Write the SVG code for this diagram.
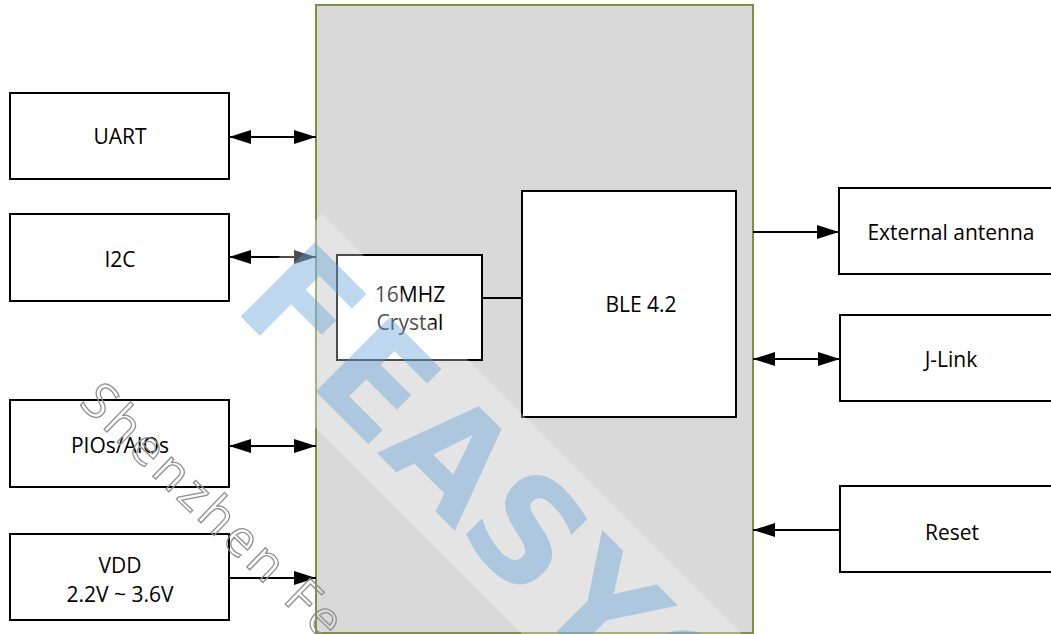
<svg xmlns="http://www.w3.org/2000/svg" width="1051" height="634" viewBox="0 0 1051 634">
  <style>
    .box { fill: #ffffff; stroke: #000000; stroke-width: 2; }
    .lbl { font-family: "Open Sans", "Liberation Sans", sans-serif; font-size: 21px; fill: #000000; text-anchor: middle; }
    .conn { stroke: #000000; stroke-width: 2; fill: none; }
  </style>
  <defs>
    <marker id="ah" markerUnits="userSpaceOnUse" markerWidth="22" markerHeight="14" viewBox="0 0 22 14" refX="22" refY="7" orient="auto-start-reverse">
      <path d="M0,0 L22,7 L0,14 Z" fill="#000000"/>
    </marker>
  </defs>
  <rect width="1051" height="634" fill="#ffffff"/>

  <g id="module">
    <rect x="316" y="5" width="437" height="628" fill="#d9d9d9" stroke="#77933c" stroke-width="2"/>
  </g>

  <g id="uart">
    <rect class="box" x="10" y="93" width="219" height="86"/>
    <text class="lbl" x="120" y="144">UART</text>
  </g>
  <g id="i2c">
    <rect class="box" x="10" y="214" width="219" height="87"/>
    <text class="lbl" x="120" y="267">I2C</text>
  </g>
  <g id="pios">
    <rect class="box" x="10" y="400" width="219" height="87"/>
    <text class="lbl" x="120" y="453">PIOs/AIOs</text>
  </g>
  <g id="vdd">
    <rect class="box" x="10" y="534" width="219" height="86"/>
    <text class="lbl" x="120" y="573">VDD</text>
    <text class="lbl" x="120" y="602">2.2V ~ 3.6V</text>
  </g>
  <g id="crystal">
    <rect class="box" x="337" y="255" width="145" height="105"/>
    <text class="lbl" x="410" y="302">16MHZ</text>
    <text class="lbl" x="410" y="330">Crystal</text>
  </g>
  <g id="ble">
    <rect class="box" x="522" y="191" width="214" height="226"/>
    <text class="lbl" x="641" y="312">BLE 4.2</text>
  </g>
  <g id="antenna">
    <rect class="box" x="839" y="188" width="230" height="86"/>
    <text class="lbl" x="951" y="240">External antenna</text>
  </g>
  <g id="jlink">
    <rect class="box" x="840" y="315" width="230" height="86"/>
    <text class="lbl" x="951" y="367">J-Link</text>
  </g>
  <g id="reset">
    <rect class="box" x="840" y="486" width="230" height="86"/>
    <text class="lbl" x="952" y="540">Reset</text>
  </g>

  <g id="connectors">
    <line class="conn" x1="229" y1="137" x2="316" y2="137" marker-start="url(#ah)" marker-end="url(#ah)"/>
    <line class="conn" x1="229" y1="257" x2="316" y2="257" marker-start="url(#ah)" marker-end="url(#ah)"/>
    <line class="conn" x1="229" y1="446" x2="316" y2="446" marker-start="url(#ah)" marker-end="url(#ah)"/>
    <line class="conn" x1="229" y1="578" x2="316" y2="578" marker-end="url(#ah)"/>
    <line class="conn" x1="482" y1="298" x2="522" y2="298"/>
    <line class="conn" x1="753" y1="232" x2="839" y2="232" marker-end="url(#ah)"/>
    <line class="conn" x1="753" y1="359" x2="840" y2="359" marker-start="url(#ah)" marker-end="url(#ah)"/>
    <line class="conn" x1="840" y1="530" x2="753" y2="530" marker-end="url(#ah)"/>
  </g>

  <g id="watermark">
    <polygon points="322,214 880,772 770,882 212,324" fill="#ffffff" fill-opacity="0.3"/>
    <text transform="translate(266,342) rotate(45)" x="0 106 212 318 424 530" y="0" font-family="DejaVu Sans, sans-serif" font-weight="bold" font-size="144" text-anchor="middle" fill="#5b9bd5" fill-opacity="0.4">FEASYC</text>
    <text transform="translate(78,404) rotate(44)" x="0" y="0" font-family="Open Sans, Liberation Sans, sans-serif" font-size="50" letter-spacing="4.5" fill="none" stroke="#8f8f8f" stroke-width="1.3">Shenzhen Fe</text>
  </g>
</svg>
